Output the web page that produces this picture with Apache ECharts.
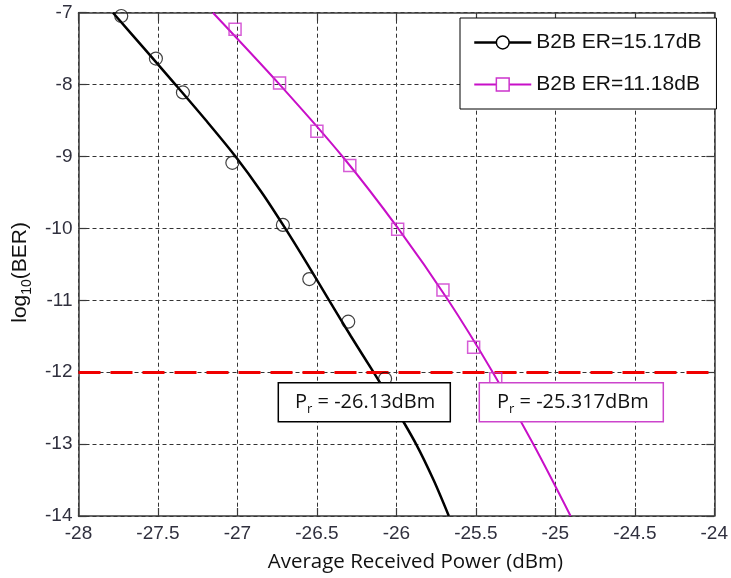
<!DOCTYPE html>
<html>
<head>
<meta charset="utf-8">
<script src="https://cdn.jsdelivr.net/npm/echarts@6/dist/echarts.min.js"></script>
<style>
  html, body { margin: 0; padding: 0; background: #fff; }
  #chart { width: 731px; height: 578px; }
</style>
</head>
<body>
<div id="chart"></div>
<script>
// Fitted BER curve for ER=15.17dB, sampled every half decade
const berLevels15 = [-7, -7.5, -8, -8.5, -9, -9.5, -10, -10.5, -11, -11.5, -12, -12.5, -13, -13.5, -14];
const fitPower15  = [-27.783, -27.586, -27.390, -27.197, -27.012, -26.847, -26.699, -26.559,
                     -26.423, -26.286, -26.144, -26.006, -25.876, -25.766, -25.670];

// Fitted BER curve for ER=11.18dB, sampled every decade
const berLevels11 = [-7, -8, -9, -10, -11, -12, -13, -14];
const fitPower11  = [-27.154, -26.734, -26.339, -25.989, -25.674, -25.394, -25.139, -24.904];

// Measured points
const measPower15 = [-27.731, -27.513, -27.343, -27.032, -26.714, -26.548, -26.303, -26.071];
const measBer15   = [-7.046, -7.638, -8.109, -9.088, -9.952, -10.705, -11.297, -12.091];
const measPower11 = [-27.015, -26.735, -26.500, -26.293, -25.992, -25.707, -25.514, -25.375];
const measBer11   = [-7.230, -7.979, -8.650, -9.125, -10.012, -10.858, -11.652, -12.090];

const seriesNames   = ['B2B ER=15.17dB', 'B2B ER=11.18dB'];
const thresholdBer  = -12;
const sensitivities = ['-26.13', '-25.317'];

const xMin = -28, xMax = -24, xStep = 0.5;
const yMin = -14, yMax = -7, yStep = 1;

const pairs = (xs, ys) => xs.map((x, i) => [x, ys[i]]);

const BLACK = '#000000';
const MAGENTA = '#c80fc8';
const MAG_MARK = '#cc33cc';
const AXIS = '#3a3a3a';
const TICK_TEXT = '#30303e';

const chart = echarts.init(document.getElementById('chart'), null, { renderer: 'canvas' });

const sideAxis = {
  show: true,
  axisLine: { show: true, lineStyle: { color: AXIS, width: 1.5 } },
  axisTick: { show: true, inside: true, length: 8, lineStyle: { color: AXIS, width: 1.2 } },
  axisLabel: { show: false },
  splitLine: { show: false }
};

const prRich = {
  p: { fontFamily: 'Open Sans', fontSize: 20, fill: '#111', lineHeight: 28, verticalAlign: 'middle' },
  s: { fontFamily: 'Open Sans', fontSize: 13, fill: '#111', lineHeight: 15, verticalAlign: 'bottom' }
};

const option = {
  animation: false,
  backgroundColor: '#ffffff',
  grid: { left: 78.5, right: 10, top: 12.7, bottom: 60.3, containLabel: false },
  xAxis: [
    {
      type: 'value', min: xMin, max: xMax, interval: xStep, position: 'bottom',
      name: 'Average Received Power (dBm)',
      nameLocation: 'middle', nameGap: 36,
      nameTextStyle: { fontFamily: 'Open Sans', fontSize: 20.5, color: '#111', padding: [0, 0, 0, 38] },
      axisLine: { show: true, onZero: false, lineStyle: { color: AXIS, width: 1.5 } },
      axisTick: { show: true, inside: true, length: 8, lineStyle: { color: AXIS, width: 1.2 } },
      axisLabel: { margin: 8, fontFamily: 'Liberation Sans', fontSize: 19, color: TICK_TEXT },
      splitLine: { show: true, lineStyle: { color: '#333', width: 1, type: [4, 3] } }
    },
    Object.assign({}, sideAxis, { type: 'value', min: xMin, max: xMax, interval: xStep, position: 'top' })
  ],
  yAxis: [
    {
      type: 'value', min: yMin, max: yMax, interval: yStep, position: 'left',
      name: '{a|log}{s|10}{a|(BER)}',
      nameLocation: 'middle', nameRotate: 90, nameGap: 35,
      nameTextStyle: {
        padding: [0, 16, 0, 0],
        rich: {
          a: { fontFamily: 'Liberation Sans', fontSize: 21, color: '#111', lineHeight: 28, verticalAlign: 'middle' },
          s: { fontFamily: 'Liberation Sans', fontSize: 14, color: '#111', lineHeight: 14, verticalAlign: 'bottom' }
        }
      },
      axisLine: { show: true, onZero: false, lineStyle: { color: AXIS, width: 1.5 } },
      axisTick: { show: true, inside: true, length: 8, lineStyle: { color: AXIS, width: 1.2 } },
      axisLabel: { margin: 6, fontFamily: 'Liberation Sans', fontSize: 19, color: TICK_TEXT },
      splitLine: { show: true, lineStyle: { color: '#333', width: 1, type: [4, 3] } }
    },
    Object.assign({}, sideAxis, { type: 'value', min: yMin, max: yMax, interval: yStep, position: 'right' })
  ],
  legend: {
    orient: 'vertical',
    left: 460, top: 18,
    padding: [14, 15, 14, 13],
    itemGap: 21,
    itemWidth: 57, itemHeight: 16,
    backgroundColor: '#ffffff',
    borderColor: '#000', borderWidth: 1,
    textStyle: { fontFamily: 'Liberation Sans', fontSize: 21, color: '#111' },
    data: [
      { name: seriesNames[0],
        itemStyle: { color: '#fff', borderColor: BLACK, borderWidth: 1.5 },
        lineStyle: { color: BLACK, width: 2.5 } },
      { name: seriesNames[1],
        itemStyle: { color: '#fff', borderColor: MAG_MARK, borderWidth: 1.5 },
        lineStyle: { color: MAGENTA, width: 2 } }
    ]
  },
  series: [
    {
      name: seriesNames[0], type: 'line', xAxisIndex: 0, yAxisIndex: 0,
      data: pairs(fitPower15, berLevels15),
      smooth: 0.3, symbol: 'circle', showSymbol: false,
      lineStyle: { color: BLACK, width: 2.5 },
      itemStyle: { color: '#fff', borderColor: BLACK },
      z: 3,
      markLine: {
        silent: true, symbol: ['none', 'none'],
        label: { show: false },
        lineStyle: { color: '#f00000', width: 3, type: [22, 10] },
        data: [{ yAxis: thresholdBer }],
        z: 4
      }
    },
    {
      name: seriesNames[1], type: 'line', xAxisIndex: 0, yAxisIndex: 0,
      data: pairs(fitPower11, berLevels11),
      smooth: 0.3, symbol: 'rect', showSymbol: false,
      lineStyle: { color: MAGENTA, width: 2 },
      itemStyle: { color: '#fff', borderColor: MAG_MARK },
      z: 3
    },
    {
      name: seriesNames[0], type: 'scatter',
      data: pairs(measPower15, measBer15),
      symbol: 'circle', symbolSize: 13,
      itemStyle: { color: 'rgba(0,0,0,0)', borderColor: '#111', borderWidth: 1.2 },
      z: 5
    },
    {
      name: seriesNames[1], type: 'scatter',
      data: pairs(measPower11, measBer11),
      symbol: 'rect', symbolSize: 12,
      itemStyle: { color: 'rgba(0,0,0,0)', borderColor: MAG_MARK, borderWidth: 1.5 },
      z: 5
    }
  ],
  graphic: [
    { type: 'rect', z: 100, shape: { x: 278.3, y: 382.7, width: 172, height: 39 },
      style: { fill: '#fff', stroke: '#000', lineWidth: 1.5 } },
    { type: 'text', z: 101, x: 295, y: 402,
      style: { text: '{p|P}{s|r}{p| = ' + sensitivities[0] + 'dBm}', verticalAlign: 'middle', rich: prRich } },
    { type: 'rect', z: 100, shape: { x: 479.3, y: 382.7, width: 184, height: 39 },
      style: { fill: '#fff', stroke: '#cc44cc', lineWidth: 1.5 } },
    { type: 'text', z: 101, x: 497, y: 402,
      style: { text: '{p|P}{s|r}{p| = ' + sensitivities[1] + 'dBm}', verticalAlign: 'middle', rich: prRich } }
  ]
};

chart.setOption(option);
</script>
</body>
</html>
